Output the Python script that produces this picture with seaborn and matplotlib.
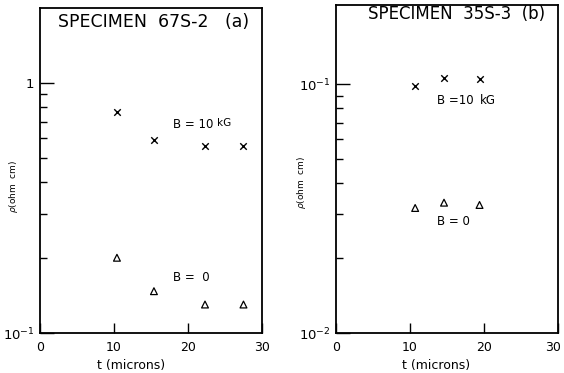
import matplotlib
matplotlib.use("Agg")
import matplotlib.pyplot as plt
import matplotlib.transforms as mtransforms
import seaborn as sns
import pandas as pd
from matplotlib.ticker import FixedLocator, NullFormatter

sns.set_style("ticks")
plt.rcParams['font.family'] = ['DejaVu Sans']
plt.rcParams['text.color'] = 'black'
plt.rcParams['axes.labelcolor'] = 'black'
plt.rcParams['xtick.color'] = 'black'
plt.rcParams['ytick.color'] = 'black'

# ---- data ----
t_a = [10.4, 15.4, 22.3, 27.5]
rho_a_10kG = [0.765, 0.59, 0.56, 0.56]
rho_a_0 = [0.200, 0.147, 0.130, 0.130]

t_b = [10.7, 14.6, 19.4]
rho_b_10kG = [0.098, 0.106, 0.105]
rho_b_0 = [0.0318, 0.0334, 0.0327]

x_ticks = [0, 10, 20, 30]
titles = ["SPECIMEN  67S-2   (a)", "SPECIMEN  35S-3  (b)"]

fig = plt.figure(figsize=(5.64, 3.73), dpi=100)
ax_a = fig.add_axes([0.0709, 0.1072, 0.3936, 0.8713])
ax_b = fig.add_axes([0.5957, 0.1072, 0.3936, 0.8794])

def style(ax, ylim, major, major_labels, minors):
    ax.set_yscale("log")
    ax.set_xlim(0, 30)
    ax.set_ylim(*ylim)
    for s in ax.spines.values():
        s.set_linewidth(1.3)
        s.set_color("black")
    ax.set_xticks(x_ticks)
    ax.set_xticklabels([str(v) for v in x_ticks], fontsize=9)
    ax.yaxis.set_major_locator(FixedLocator(major))
    ax.set_yticklabels(major_labels, fontsize=9.5)
    ax.yaxis.set_minor_locator(FixedLocator(minors))
    ax.yaxis.set_minor_formatter(NullFormatter())
    ax.tick_params(axis="x", direction="in", length=7, width=1.0, pad=6)
    ax.tick_params(axis="y", which="major", direction="in", length=10, width=1.0, pad=4)
    ax.tick_params(axis="y", which="minor", direction="in", length=5, width=1.0)
    ax.tick_params(top=False, right=False)

def plot_series(ax, t, r10, r0):
    d10 = pd.DataFrame({"t": t, "rho": r10})
    d0 = pd.DataFrame({"t": t, "rho": r0})
    sns.scatterplot(data=d10, x="t", y="rho", marker="x", s=22, color="black",
                    linewidth=1.0, ax=ax, legend=False)
    sns.scatterplot(data=d0, x="t", y="rho", marker="^", s=24, facecolor="none",
                    edgecolor="black", linewidth=0.9, ax=ax, legend=False)

# panel a
plot_series(ax_a, t_a, rho_a_10kG, rho_a_0)
style(ax_a, (0.1, 1.995), [0.1, 1], ["$10^{-1}$", "1"],
      [0.2, 0.3, 0.4, 0.5, 0.6, 0.7, 0.8, 0.9])
ax_a.text(15.3, 0.1 * 10 ** ((333 - 22) / 250), titles[0], ha="center", va="center",
          fontsize=12.5)
ax_a.text(18.0, 0.68, "B = 10", fontsize=8.5, ha="left", va="center")
ax_a.text(23.9, 0.69, "kG", fontsize=7.5, ha="left", va="center")
ax_a.text(18.0, 0.166, "B =  0", fontsize=8.5, ha="left", va="center")

# panel b
plot_series(ax_b, t_b, rho_b_10kG, rho_b_0)
style(ax_b, (0.01, 0.208), [0.01, 0.1], ["$10^{-2}$", "$10^{-1}$"],
      [0.02, 0.03, 0.04, 0.05, 0.06, 0.07, 0.08, 0.09])
ax_b.text(16.3, 0.01 * 10 ** ((332 - 14) / 248), titles[1], ha="center", va="center",
          fontsize=12)
ax_b.text(13.7, 0.086, "B =10", fontsize=8.5, ha="left", va="center")
ax_b.text(19.4, 0.086, "kG", fontsize=8.5, ha="left", va="center")
ax_b.text(13.6, 0.0281, "B = 0", fontsize=8.5, ha="left", va="center")

for ax, lab in [(ax_a, "t (microns)"), (ax_b, "t (microns)")]:
    ax.set_xlabel(lab, fontsize=9)
    ax.set_ylabel(r"$\rho$(ohm  cm)", fontsize=6.5)

ax_a.xaxis.set_label_coords(0.41, -0.08)
ax_b.xaxis.set_label_coords(0.45, -0.08)
ax_a.yaxis.set_label_coords(-0.09, 0.45)
ax_b.yaxis.set_label_coords(-0.125, 0.46)

# nudge the last x tick label of panel b so it stays inside the figure
last = ax_b.get_xticklabels()[-1]
last.set_transform(last.get_transform() +
                   mtransforms.ScaledTranslation(-5 / 100, 0, fig.dpi_scale_trans))

fig.savefig("out.png", dpi=100)
